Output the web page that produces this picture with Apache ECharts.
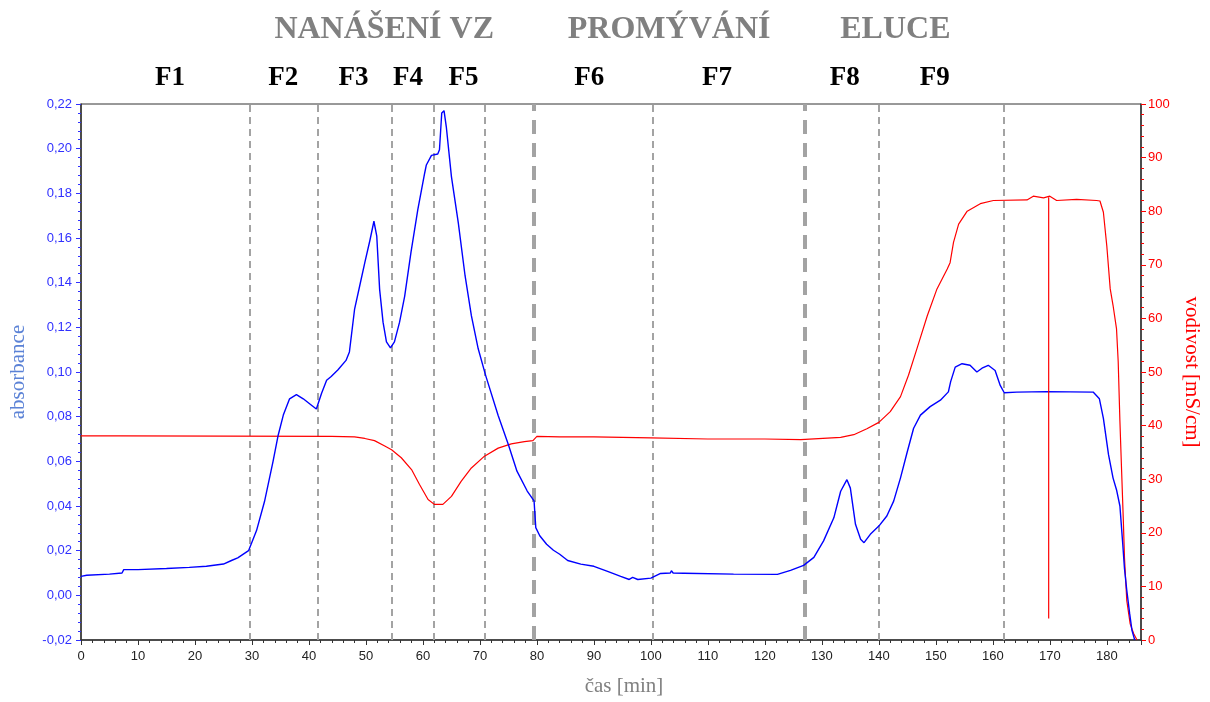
<!DOCTYPE html>
<html>
<head>
<meta charset="utf-8">
<title>chromatogram</title>
<script src="https://cdn.jsdelivr.net/npm/echarts@6/dist/echarts.min.js"></script>
<style>
  html, body { margin: 0; padding: 0; background: #fff; }
  #chart { width: 1210px; height: 702px; }
</style>
</head>
<body>
<div id="chart"></div>
<script>
// absorbance (left axis) - time [min] / value
var absTime = [0, 1, 5, 7.2, 7.5, 10, 15, 19, 22, 25, 26.4, 27.5, 29.4, 30.8, 32.2, 33.7, 34.6, 35.5, 36.6, 37.8,
  39, 40.5, 41.3, 42.2, 43.1, 43.9, 45.1, 46.5, 47.1, 48, 48.9, 49.8, 50.7, 51.4, 51.9, 52.4, 53.0, 53.6, 54.3, 55.0,
  55.9, 56.8, 57.9, 59.1, 60.3, 60.6, 61.5, 62.6, 62.9, 63.3, 63.7, 64.1, 65.0, 66.2, 67.4, 68.5, 69.7, 71.0, 73.2, 75.0,
  76.5, 78.3, 79.5, 79.8, 80.5, 81.7, 82.9, 84.0, 85.4, 87.7, 90, 92.4, 94.7, 96.2, 96.8, 97.7, 100, 101.7, 103.4, 103.6,
  103.9, 105.8, 114.5, 122.2, 124.5, 126.8, 128.6, 130.3, 132.1, 133.3, 134.4, 135, 135.9, 136.8, 137.4, 138.5, 140, 141.4, 142.6, 143.8,
  145, 146.1, 147.3, 149, 150.8, 152.2, 152.6, 153.4, 154.6, 156, 157.2, 158.1, 159.2, 160.4, 161.3, 162, 164.2, 169.5, 177.6, 178.7,
  179.4, 180.3, 181.1, 181.7, 182.3, 182.8, 183.1, 183.5, 184.0, 184.4, 184.9];
var absValue = [0.0085, 0.009, 0.0095, 0.0100, 0.0115, 0.0115, 0.012, 0.0125, 0.013, 0.014, 0.0156, 0.0168, 0.020, 0.029, 0.042, 0.060, 0.0717, 0.0807, 0.088, 0.0899,
  0.088, 0.085, 0.0834, 0.0904, 0.0963, 0.098, 0.101, 0.1052, 0.109, 0.128, 0.1385, 0.149, 0.159, 0.1675, 0.1608, 0.137, 0.1223, 0.1135, 0.1108, 0.1135,
  0.1223, 0.134, 0.1536, 0.1727, 0.189, 0.1927, 0.197, 0.1976, 0.1995, 0.216, 0.217, 0.2098, 0.1875, 0.1669, 0.143, 0.1252, 0.1104, 0.0985, 0.0805, 0.0674,
  0.0556, 0.0467, 0.0423, 0.0303, 0.0267, 0.0229, 0.0202, 0.0184, 0.0156, 0.014, 0.013, 0.0107, 0.0085, 0.0071, 0.008, 0.0071, 0.0077, 0.0098, 0.0100, 0.011,
  0.0100, 0.0099, 0.0095, 0.0094, 0.0112, 0.0134, 0.017, 0.0244, 0.0347, 0.0466, 0.0518, 0.048, 0.0318, 0.0251, 0.0236, 0.0273, 0.031, 0.0355, 0.0422, 0.0526,
  0.0644, 0.0748, 0.0807, 0.0845, 0.0874, 0.0911, 0.0957, 0.1022, 0.1037, 0.1030, 0.100, 0.1017, 0.103, 0.1007, 0.094, 0.0907, 0.091, 0.0912, 0.091, 0.088,
  0.0792, 0.063, 0.0525, 0.0473, 0.040, 0.0229, 0.012, 0.0023, -0.008, -0.0155, -0.02];

// conductivity (right axis) - time [min] / mS/cm
var condTime = [0, 7, 7.2, 44, 48, 49.8, 51.5, 53.3, 54.5, 56.2, 58, 59.4, 60.9, 62, 63.5, 65, 66.7, 68.5, 70.8, 73.2,
  75.5, 77.8, 79.3, 80, 84, 90, 100, 110, 120, 126.3, 126.6, 133.3, 135.6, 137.9, 140, 142, 143.8, 145.2, 146.7, 148.5,
  150.2, 152, 152.5, 153.1, 154, 155.5, 157.8, 160.1, 166, 167.1, 168.9, 170, 171.2, 174.7, 178.2, 178.8, 179.4, 180, 180.6, 181.1,
  181.7, 182, 182.3, 182.6, 182.9, 183.1, 183.5, 184.1, 184.7, 185.3];
var condValue = [38.1, 38.1, 38.0, 38.0, 37.9, 37.6, 37.2, 36.2, 35.5, 34.0, 31.8, 29.0, 26.2, 25.3, 25.3, 26.8, 29.6, 32.1, 34.3, 35.8,
  36.6, 37.0, 37.2, 38.0, 37.9, 37.9, 37.7, 37.5, 37.5, 37.4, 37.6, 37.8, 38.3, 39.4, 40.6, 42.6, 45.4, 49.4, 54.4, 60.5,
  65.5, 69.2, 70.4, 74.2, 77.6, 80.0, 81.4, 82.0, 82.1, 82.8, 82.5, 82.8, 82.0, 82.2, 82.0, 81.9, 79.8, 73.5, 65.5, 62.4,
  58.1, 51.9, 40.8, 31.5, 22.3, 15.4, 7.4, 3.0, 1.2, 0];

// red marker line
var markerTime = [169.8, 169.8];
var markerValue = [82.6, 4];

// fraction boundaries (thin) and phase boundaries (heavy)
var fractionBounds = [29.6, 41.5, 54.5, 61.9, 70.9, 100.4, 139.9, 162.0];
var phaseBounds = [79.4, 127.0];

// labels above the plot
var phaseNames = ['NANÁŠENÍ VZ', 'PROMÝVÁNÍ', 'ELUCE'];
var phaseCenters = [53.2, 103.2, 142.9];
var fractionNames = ['F1', 'F2', 'F3', 'F4', 'F5', 'F6', 'F7', 'F8', 'F9'];
var fractionCenters = [15.6, 35.5, 47.8, 57.4, 67.1, 89.2, 111.6, 134.0, 149.8];

var BLUE = '#0000ff', RED = '#ff0000', GREY = '#a3a3a3';

function zip(a, b){
  return a.map(function(v, i){ return [v, b[i]]; });
}

var chart = echarts.init(document.getElementById('chart'));

var bounds = fractionBounds.map(function(t){
  return { xAxis: t, lineStyle: { color: GREY, width: 2, type: [7, 5] } };
}).concat(phaseBounds.map(function(t){
  return { xAxis: t, lineStyle: { color: GREY, width: 4, type: [14, 9] } };
}));

var option = {
  animation: false,
  backgroundColor: '#fff',
  grid: { left: 79, right: 69, top: 104, bottom: 59, show: true, borderColor: '#333', borderWidth: 1 },
  xAxis: {
    type: 'value', min: 0, max: 186, interval: 10,
    name: 'čas [min]', nameLocation: 'middle', nameGap: 36,
    nameTextStyle: { fontFamily: 'Liberation Serif', fontSize: 21, color: '#808080', padding: [0, 0, 0, 26] },
    axisLine: { onZero: false, lineStyle: { color: '#333', width: 1.5 } },
    axisTick: { length: 5, lineStyle: { color: '#333' } },
    minorTick: { show: true, splitNumber: 5, length: 3, lineStyle: { color: '#333' } },
    axisLabel: { showMaxLabel: false, margin: 10, color: '#222', fontFamily: 'Liberation Sans', fontSize: 13 },
    splitLine: { show: false }
  },
  yAxis: [{
    type: 'value', min: -0.02, max: 0.22, interval: 0.02,
    name: 'absorbance', nameLocation: 'middle', nameGap: 52,
    nameTextStyle: { fontFamily: 'Liberation Serif', fontSize: 21, color: '#5b82d6' },
    axisLine: { onZero: false, lineStyle: { color: '#333', width: 1.5 } },
    axisTick: { length: 5, lineStyle: { color: '#3030ff' } },
    minorTick: { show: true, splitNumber: 5, length: 3, lineStyle: { color: '#3030ff' } },
    axisLabel: {
      margin: 9, color: '#3030ff', fontFamily: 'Liberation Sans', fontSize: 13,
      formatter: function(v){ return v.toFixed(2).replace('.', ','); }
    },
    splitLine: { show: false }
  }, {
    type: 'value', min: 0, max: 100, interval: 10, position: 'right', alignTicks: false,
    name: 'vodivost [mS/cm]', nameLocation: 'middle', nameGap: 34, nameRotate: -90,
    nameTextStyle: { fontFamily: 'Liberation Serif', fontSize: 21, color: RED },
    axisLine: { show: true, onZero: false, lineStyle: { color: '#333', width: 1.5 } },
    axisTick: { length: 5, lineStyle: { color: RED } },
    minorTick: { show: true, splitNumber: 5, length: 3, lineStyle: { color: RED } },
    axisLabel: { margin: 7, color: RED, fontFamily: 'Liberation Sans', fontSize: 13 },
    splitLine: { show: false }
  }],
  series: [{
    name: 'vodivost', type: 'line', yAxisIndex: 1, showSymbol: false, z: 3,
    lineStyle: { color: RED, width: 1.2 },
    data: zip(condTime, condValue)
  }, {
    name: 'absorbance', type: 'line', yAxisIndex: 0, showSymbol: false, z: 4,
    lineStyle: { color: BLUE, width: 1.4 },
    data: zip(absTime, absValue),
    markLine: { silent: true, symbol: 'none', label: { show: false }, z: 1, data: bounds }
  }, {
    name: 'marker', type: 'line', yAxisIndex: 1, showSymbol: false, z: 5,
    lineStyle: { color: RED, width: 1.2 },
    data: zip(markerTime, markerValue)
  }]
};

chart.setOption(option);

// texts above the plot, placed at their time positions
var texts = [];
phaseNames.forEach(function(n, i){
  texts.push({ type: 'text', x: chart.convertToPixel({ xAxisIndex: 0 }, phaseCenters[i]), y: 30,
    style: { text: n, fill: '#808080', font: 'bold 32px "Liberation Serif"', align: 'center', verticalAlign: 'middle' } });
});
fractionNames.forEach(function(n, i){
  texts.push({ type: 'text', x: chart.convertToPixel({ xAxisIndex: 0 }, fractionCenters[i]), y: 78,
    style: { text: n, fill: '#000', font: 'bold 27px "Liberation Serif"', align: 'center', verticalAlign: 'middle' } });
});
chart.setOption({ graphic: texts });
</script>
</body>
</html>
